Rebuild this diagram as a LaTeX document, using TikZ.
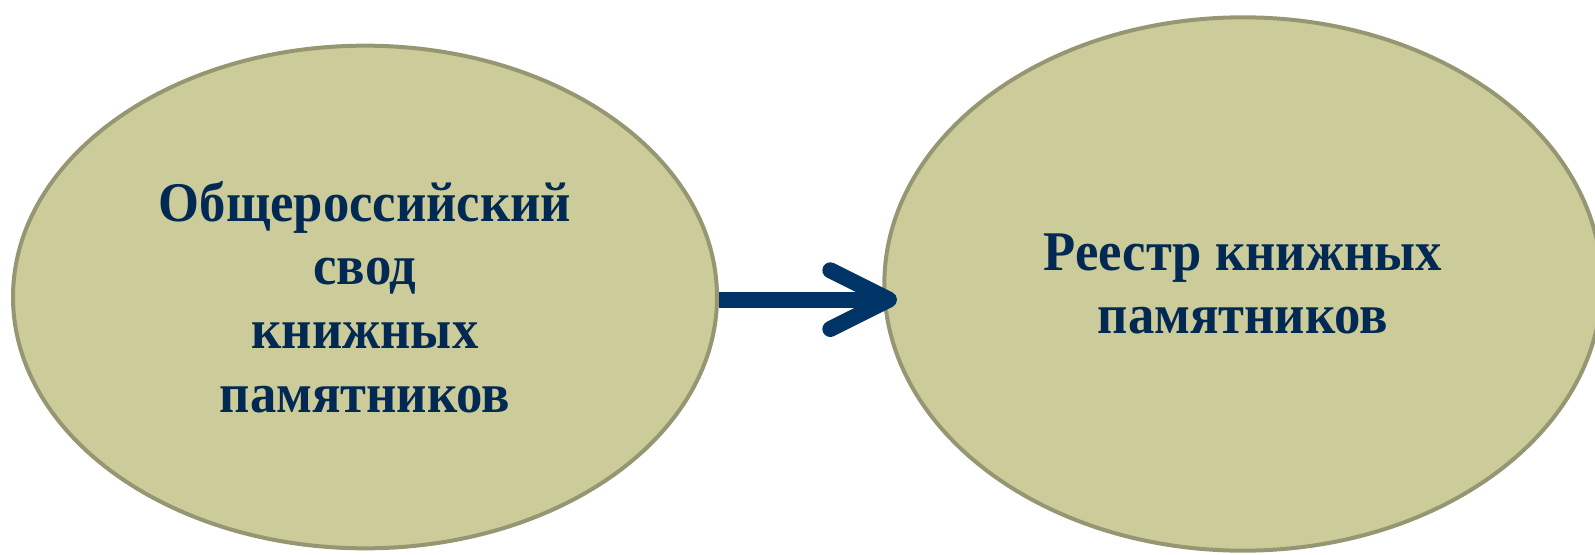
\documentclass[tikz,border=0pt]{standalone}
\usepackage{fontspec}
\setmainfont{Liberation Serif}
\newfontfamily\ovalfont[FakeStretch=0.94]{Liberation Serif}
\usepackage{tikz}
\usetikzlibrary{shapes, arrows.meta, positioning}
\definecolor{olivefill}{RGB}{203,204,154}
\definecolor{oliveline}{RGB}{150,151,114}
\definecolor{navytext}{RGB}{2,41,84}
\definecolor{navyarrow}{RGB}{0,51,102}

\begin{document}
\begin{tikzpicture}
  [
    x=0.75pt, y=-0.75pt,
    Oval/.style={ellipse, draw=oliveline, fill=olivefill, line width=3pt, inner sep=0pt,
      align=center, text=navytext, font=\ovalfont\bfseries\fontsize{42}{47.8}\selectfont},
    Link/.style={-{Straight Barb[length=44pt, width=44pt, round]}, draw=navyarrow, line width=12pt}
  ]
  \useasboundingbox (0, 0) rectangle (1595, 554);
  % Nodes
  \node[Oval, minimum width=528pt, minimum height=377pt] (svod) at(365, 297)
    {Общероссийский\\свод\\книжных\\памятников};
  \node[Oval, minimum width=538pt, minimum height=400pt] (reestr) at(1243, 284)
    {Реестр книжных\\памятников};
  % Lines
  \path [Link] ([yshift=-2pt]svod.east) -- ([xshift=11pt, yshift=-2pt]svod.east -| reestr.west);
\end{tikzpicture}
\end{document}
